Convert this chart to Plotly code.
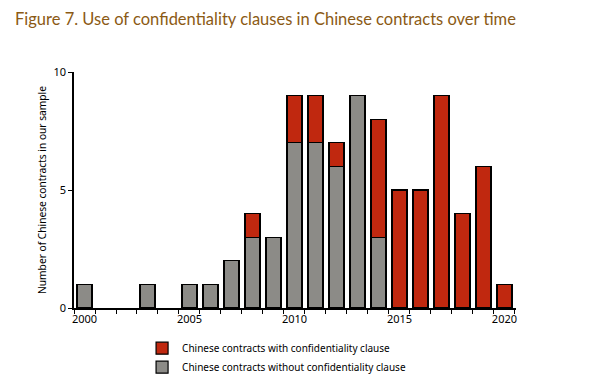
import plotly.graph_objects as go

years = list(range(2000, 2021))
without_clause = [1, 0, 0, 1, 0, 1, 1, 2, 3, 3, 7, 7, 6, 9, 3, 0, 0, 0, 0, 0, 0]
with_clause = [0, 0, 0, 0, 0, 0, 0, 0, 1, 0, 2, 2, 1, 0, 5, 5, 5, 9, 4, 6, 1]
x_tick_labels = ["2000", "2005", "2010", "2015", "2020"]
y_ticks = [0, 5, 10]


def nz(values):
    return [v if v else None for v in values]


fig = go.Figure()
fig.add_trace(go.Bar(
    x=years, y=nz(without_clause),
    name="Chinese contracts without confidentiality clause",
    marker=dict(color="#8C8B87", line=dict(color="black", width=1.2)),
))
fig.add_trace(go.Bar(
    x=years, y=nz(with_clause),
    name="Chinese contracts with confidentiality clause",
    marker=dict(color="#C0280F", line=dict(color="black", width=1.2)),
))

# page body adds an 8px offset; figure is sized to compensate
W, H = 584, 373
fig.update_layout(
    barmode="stack",
    bargap=0.29,
    width=W, height=H,
    margin=dict(l=66, r=76, t=64, b=73, autoexpand=False),
    paper_bgcolor="white",
    plot_bgcolor="white",
    font=dict(family="Noto Sans, DejaVu Sans, sans-serif", size=11, color="black"),
    title=dict(
        text="Figure 7. Use of confidentiality clauses in Chinese contracts over time",
        x=7 / W, xanchor="left", xref="container",
        y=1 - 11 / H, yanchor="middle", yref="container",
        font=dict(family="Lato, Open Sans, sans-serif", size=16.5, color="#8B5A14"),
    ),
    legend=dict(
        x=0.154, y=-0.109, xanchor="left", yanchor="top",
        traceorder="reversed",
        font=dict(size=10),
        itemwidth=30,
        tracegroupgap=0,
        bgcolor="rgba(0,0,0,0)",
    ),
    showlegend=True,
)

fig.update_xaxes(
    range=[1999.5, 2020.55],
    tickmode="array",
    tickvals=[int(v) for v in x_tick_labels],
    ticktext=x_tick_labels,
    ticks="",
    showline=True, linecolor="black", linewidth=1.5,
    showgrid=False, zeroline=False,
    tickfont=dict(size=11),
    minor=dict(
        tickmode="array",
        tickvals=[y - 0.5 for y in years] + [2020.5],
        ticks="outside", ticklen=4, tickcolor="black", tickwidth=1.3,
        showgrid=False,
    ),
)
fig.update_yaxes(
    range=[0, 10],
    tickmode="array",
    tickvals=y_ticks,
    ticks="outside", ticklen=4, tickcolor="black", tickwidth=1.3,
    showline=True, linecolor="black", linewidth=1.5,
    showgrid=False, zeroline=False,
    title=dict(text="Number of Chinese contracts in our sample", font=dict(size=10.2), standoff=5),
    tickfont=dict(size=11),
)

fig.write_html("out.html")
